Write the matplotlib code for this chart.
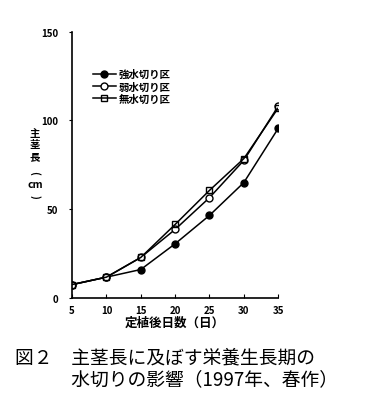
import matplotlib
matplotlib.use('Agg')
import matplotlib.pyplot as plt

plt.rcParams['font.family'] = ['Noto Sans CJK JP', 'DejaVu Sans']

days = [5, 10, 15, 20, 25, 30, 35]
strong = [7.5, 11.7, 16, 30.5, 46.5, 65, 95.5]
weak = [7.5, 11.7, 22.8, 38.6, 56.5, 77.5, 108]
none_ = [7.5, 11.7, 22.8, 41.4, 60.6, 78.5, 107]
labels = ['強水切り区', '弱水切り区', '無水切り区']
xticks = [5, 10, 15, 20, 25, 30, 35]
yticks = [0, 50, 100, 150]

W, H = 366, 410
fig = plt.figure(figsize=(W / 100, H / 100), dpi=100)
ax = fig.add_axes([0.197, 0.271, 0.563, 0.649])

ax.plot(days, strong, color='black', lw=1.1, marker='o', ms=5, mfc='black', label=labels[0])
ax.plot(days, weak, color='black', lw=1.1, marker='o', ms=5, mfc='white', label=labels[1])
ax.plot(days, none_, color='black', lw=1.1, marker='s', ms=5, mfc='none', label=labels[2])

ax.set_xlim(5, 35)
ax.set_ylim(0, 150)
ax.set_xticks(xticks)
ax.set_yticks(yticks)
ax.set_xticklabels([str(t) for t in xticks], fontsize=7, fontweight='bold')
ax.set_yticklabels([str(t) for t in yticks], fontsize=7, fontweight='bold')
ax.tick_params(axis='x', direction='in', length=3, pad=5)
ax.tick_params(axis='y', direction='out', length=2, pad=8)
for s in ['top', 'right']:
    ax.spines[s].set_visible(False)
ax.spines['left'].set_linewidth(1.2)
ax.spines['bottom'].set_linewidth(1.2)

ax.set_xlabel('定植後日数（日）', fontsize=9, fontweight='bold', labelpad=1)

# vertical y label, one glyph at a time
ylab = [('主', 134, 0), ('茎', 145, 0), ('長', 157, 0),
        ('(', 173, -90), ('cm', 185, 0), (')', 197, -90)]
for ch, py, rot in ylab:
    fig.text(35 / W, 1 - py / H, ch, fontsize=7.5, fontweight='bold',
             ha='center', va='center', rotation=rot)

leg = ax.legend(loc='upper left', bbox_to_anchor=(0.08, 0.875), frameon=False,
                fontsize=7.5, handlelength=2.2, handletextpad=0.3, labelspacing=0.2,
                borderaxespad=0)
for t in leg.get_texts():
    t.set_fontweight('bold')

fig.text(0.04, 0.1, '図２　主茎長に及ぼす栄養生長期の\n　　　水切りの影響（1997年、春作）',
         fontsize=13.5, ha='left', va='center', linespacing=1.05)

fig.savefig('out.png', dpi=100)
